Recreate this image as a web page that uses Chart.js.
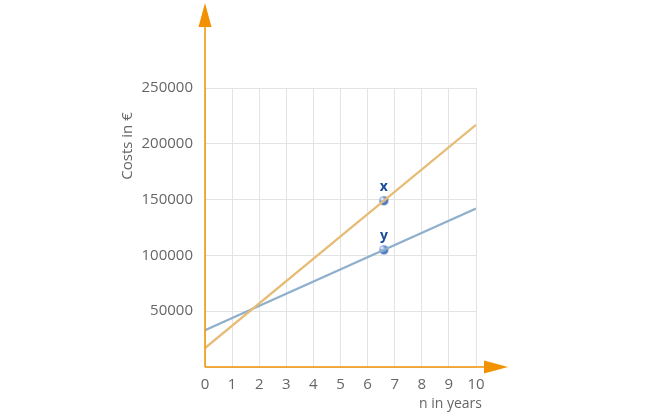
<!DOCTYPE html>
<html>
<head>
<meta charset="utf-8">
<script src="https://cdn.jsdelivr.net/npm/chart.js@4.4.0/dist/chart.umd.min.js"></script>
<style>
  html, body { margin: 0; padding: 0; background: #fff; }
  #wrap { width: 650px; height: 416px; position: relative; }
</style>
</head>
<body>
<div id="wrap"><canvas id="costChart"></canvas></div>
<script>
// values
const years = [0, 10];
const costsX = [17000, 217000];
const costsY = [33000, 142000];
const markerYear = 6.6;
const markerLabels = ['x', 'y'];
const markerCosts = [149000, 105000];
const yTicks = [50000, 100000, 150000, 200000, 250000];
const xTicks = [0, 1, 2, 3, 4, 5, 6, 7, 8, 9, 10];

const axisOrange = '#f39200';
const textGrey = '#666666';

// little shaded ball for the two markers
function makeBall(r) {
    const c = document.createElement('canvas');
    c.width = c.height = r * 2 + 2;
    const g = c.getContext('2d');
    const grad = g.createRadialGradient(r - 1, r - 1, 0.5, r + 1, r + 1, r + 1);
    grad.addColorStop(0, '#ffffff');
    grad.addColorStop(0.35, '#7fa6dc');
    grad.addColorStop(1, '#1f4f9c');
    g.fillStyle = grad;
    g.beginPath();
    g.arc(r + 1, r + 1, r, 0, Math.PI * 2);
    g.fill();
    return c;
}
const ball = makeBall(4.5);

const axesArrows = {
    id: 'axesArrows',
    afterDatasetsDraw(chart) {
        const { ctx, chartArea } = chart;
        const x0 = chartArea.left, y0 = chartArea.bottom;
        ctx.save();
        ctx.strokeStyle = axisOrange;
        ctx.fillStyle = axisOrange;
        ctx.lineWidth = 1.5;
        ctx.beginPath();
        ctx.moveTo(x0, y0);
        ctx.lineTo(x0, 20);
        ctx.moveTo(x0, y0);
        ctx.lineTo(chartArea.right + 12, y0);
        ctx.stroke();
        // arrow heads
        ctx.beginPath();
        ctx.moveTo(x0, 3);
        ctx.lineTo(x0 - 6.5, 27);
        ctx.lineTo(x0 + 6.5, 27);
        ctx.closePath();
        ctx.fill();
        ctx.beginPath();
        ctx.moveTo(chartArea.right + 32, y0);
        ctx.lineTo(chartArea.right + 8, y0 - 6.5);
        ctx.lineTo(chartArea.right + 8, y0 + 6.5);
        ctx.closePath();
        ctx.fill();

        // marker letters
        const meta = chart.getDatasetMeta(2);
        ctx.fillStyle = '#1a4d9b';
        ctx.font = 'bold 14px "Open Sans"';
        ctx.textAlign = 'center';
        ctx.textBaseline = 'bottom';
        meta.data.forEach((pt, i) => {
            ctx.fillText(markerLabels[i], pt.x, pt.y - 7);
        });

        // axis titles
        ctx.fillStyle = textGrey;
        ctx.font = '14px "Open Sans"';
        ctx.textAlign = 'right';
        ctx.textBaseline = 'middle';
        ctx.fillText('n in years', chartArea.right + 6, 404);
        ctx.font = '15px "Open Sans"';
        ctx.translate(128, 146);
        ctx.rotate(-Math.PI / 2);
        ctx.textAlign = 'center';
        ctx.fillText('Costs in €', 0, 0);
        ctx.restore();
    }
};

new Chart(document.getElementById('costChart'), {
    type: 'scatter',
    data: {
        datasets: [
            {
                label: 'x',
                data: years.map((n, i) => ({ x: n, y: costsX[i] })),
                showLine: true,
                borderColor: '#e6bb74',
                borderWidth: 2.2,
                pointRadius: 0
            },
            {
                label: 'y',
                data: years.map((n, i) => ({ x: n, y: costsY[i] })),
                showLine: true,
                borderColor: '#8fb0cc',
                borderWidth: 2.2,
                pointRadius: 0
            },
            {
                label: 'markers',
                data: markerCosts.map(v => ({ x: markerYear, y: v })),
                showLine: false,
                pointStyle: ball,
                pointRadius: 5
            }
        ]
    },
    options: {
        responsive: true,
        maintainAspectRatio: false,
        animation: false,
        layout: {
            padding: { left: 0, top: 88, right: 174, bottom: 0 }
        },
        plugins: {
            legend: { display: false },
            tooltip: { enabled: false }
        },
        scales: {
            x: {
                type: 'linear',
                min: 0,
                max: 10,
                afterFit: scale => { scale.height = 49; },
                afterBuildTicks: scale => { scale.ticks = xTicks.map(v => ({ value: v })); },
                border: { display: false },
                grid: { color: '#e3e3e3', drawTicks: false },
                ticks: {
                    color: textGrey,
                    padding: 9,
                    font: { family: 'Open Sans', size: 15 }
                }
            },
            y: {
                min: 0,
                max: 250000,
                afterFit: scale => { scale.width = 205; },
                afterBuildTicks: scale => { scale.ticks = [0, ...yTicks].map(v => ({ value: v })); },
                border: { display: false },
                grid: { color: '#e3e3e3', drawTicks: false },
                ticks: {
                    color: textGrey,
                    padding: 12,
                    font: { family: 'Open Sans', size: 15 },
                    callback: value => value === 0 ? '' : value
                }
            }
        }
    },
    plugins: [axesArrows]
});
</script>
</body>
</html>
